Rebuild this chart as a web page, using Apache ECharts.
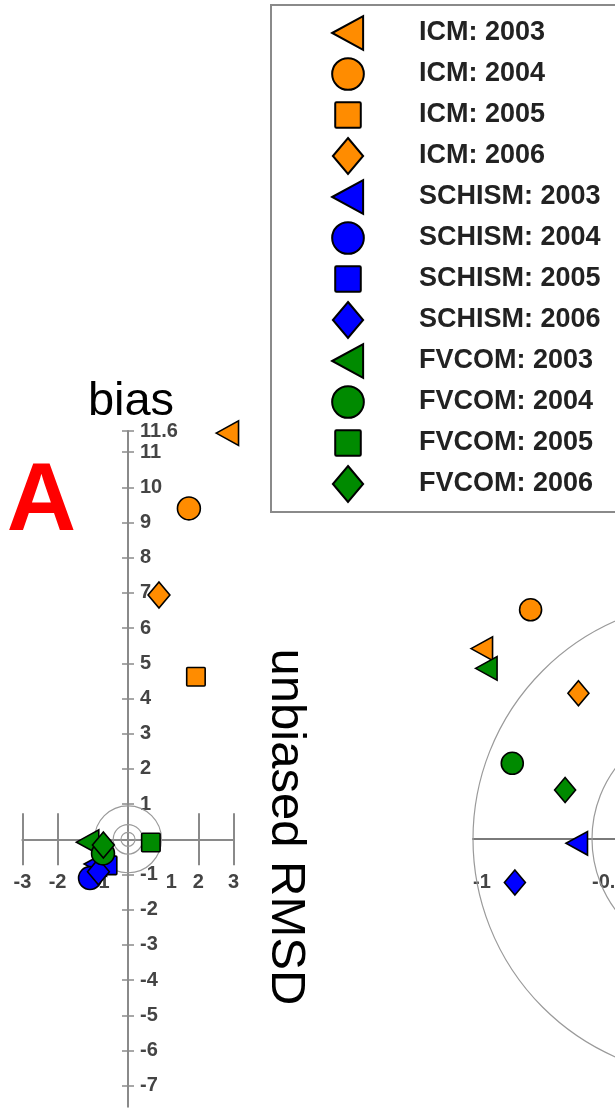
<!DOCTYPE html>
<html><head><meta charset="utf-8">
<script src="https://cdn.jsdelivr.net/npm/echarts@6/dist/echarts.min.js"></script>
<style>html,body{margin:0;padding:0;background:#fff}#c{width:615px;height:1109px}</style>
</head><body><div id="c"></div>
<script>
// ---------------- data ----------------
const models = ['ICM', 'SCHISM', 'FVCOM'];
const years = ['2003', '2004', '2005', '2006'];
const modelColors = ['#FF8C00', '#0000FF', '#008A00'];
// Target diagram A: [unbiased RMSD, bias] for 2003..2006
const icmTarget    = [[2.83, 11.54], [1.73, 9.40], [1.93, 4.62], [0.88, 6.94]];
const schismTarget = [[-0.92, -0.70], [-1.08, -1.10], [-0.58, -0.74], [-0.84, -0.92]];
const fvcomTarget  = [[-1.14, -0.08], [-0.71, -0.40], [0.65, -0.09], [-0.70, -0.16]];
// Second (normalised) diagram, only the points visible in the crop
const icmNorm    = [[-0.962, 0.80], [-0.758, 0.963], null, [-0.557, 0.612]];
const schismNorm = [[-0.563, -0.018], null, null, [-0.824, -0.183]];
const fvcomNorm  = [[-0.943, 0.717], [-0.835, 0.318], null, [-0.613, 0.206]];
// tick labels
const biasTicks = [-7, -6, -5, -4, -3, -2, -1, 1, 2, 3, 4, 5, 6, 7, 8, 9, 10, 11, 11.6];
const rmsdTicks = [-3, -2, -1, 1, 2, 3];
const rmsdLongTicks = [-3, -2, 2, 3];
const normTicks = [-1, -0.5];
const targetCircles = [0.95, 0.42, 0.2];
const normCircles = [1, 0.5];

// ---------------- layout ----------------
const PX0 = 35.2;                 // px per unit, diagram A
const G0 = { left: 22.4, top: 431, xmin: -3, xmax: 3, ymin: -7.6, ymax: 11.6 };
G0.width = (G0.xmax - G0.xmin) * PX0;
G0.height = (G0.ymax - G0.ymin) * PX0;
const PX1 = 238;                  // px per unit, second diagram
const G1 = { left: 473, xmin: -1, xmax: -0.405, ymin: -1.2, ymax: 1.2, zeroY: 839 };
G1.width = (G1.xmax - G1.xmin) * PX1;
G1.height = (G1.ymax - G1.ymin) * PX1;
G1.top = G1.zeroY - G1.ymax * PX1;

// ---------------- styling ----------------
const FONT = '"Liberation Sans", Arial, sans-serif';
const AXIS_GRAY = '#8a8a8a';
const B = 'M0,0 M100,100 ';
const yearSymbols = [
  'path://' + B + 'M6,50 L92,3 L92,97 Z',
  'path://' + B + 'M94,50 C94,74.3 74.3,94 50,94 C25.7,94 6,74.3 6,50 C6,25.7 25.7,6 50,6 C74.3,6 94,25.7 94,50 Z',
  'path://' + B + 'M18,14.5 L82,14.5 Q85.5,14.5 85.5,18 L85.5,82 Q85.5,85.5 82,85.5 L18,85.5 Q14.5,85.5 14.5,82 L14.5,18 Q14.5,14.5 18,14.5 Z',
  'path://' + B + 'M50,0 L92,50 L50,100 L8,50 Z'
];
const targetData = [icmTarget, schismTarget, fvcomTarget];
const normData = [icmNorm, schismNorm, fvcomNorm];

function circleRenderer(params, api) {
  const c = api.coord([0, 0]);
  const e = api.coord([api.value(0), 0]);
  return { type: 'circle', shape: { cx: c[0], cy: c[1], r: Math.abs(e[0] - c[0]) },
    style: { fill: 'none', stroke: '#9a9a9a', lineWidth: 1.2 } };
}

const names = [];
const series = [
  { type: 'custom', xAxisIndex: 0, yAxisIndex: 0, clip: false, silent: true, z: 1,
    data: targetCircles.map(r => [r, 0]), renderItem: circleRenderer },
  { type: 'custom', xAxisIndex: 2, yAxisIndex: 2, clip: false, silent: true, z: 1,
    data: normCircles.map(r => [r, 0]), renderItem: circleRenderer }
];
models.forEach((m, mi) => {
  years.forEach((y, yi) => {
    const name = m + ': ' + y;
    names.push(name);
    const common = {
      name, type: 'scatter', symbol: yearSymbols[yi], clip: false,
      itemStyle: { color: modelColors[mi], borderColor: '#000', borderWidth: 1.6, opacity: 1 },
      emphasis: { disabled: true }
    };
    series.push(Object.assign({}, common, {
      xAxisIndex: 0, yAxisIndex: 0, symbolSize: 26, z: 3, data: [targetData[mi][yi]]
    }));
    if (normData[mi][yi]) {
      series.push(Object.assign({}, common, {
        xAxisIndex: 2, yAxisIndex: 2, symbolSize: 25, z: 3, data: [normData[mi][yi]]
      }));
    }
  });
});

const labelStyle = { fontSize: 20, fontWeight: 'bold', color: '#444', fontFamily: FONT };
// offsets move each axis from the grid edge onto the zero line of the other axis
const xOff0 = -(0 - G0.ymin) * PX0;
const yOff0 = -(0 - G0.xmin) * PX0;
const xOff1 = -(0 - G1.ymin) * PX1;

const option = {
  animation: false,
  backgroundColor: '#fff',
  grid: [
    { left: G0.left, top: G0.top, width: G0.width, height: G0.height, outerBoundsMode: 'none', containLabel: false },
    { left: G1.left, top: G1.top, width: G1.width, height: G1.height, outerBoundsMode: 'none', containLabel: false }
  ],
  xAxis: [
    { gridIndex: 0, type: 'value', min: G0.xmin, max: G0.xmax, position: 'bottom', offset: xOff0,
      axisLine: { onZero: false, lineStyle: { color: AXIS_GRAY, width: 2 } },
      axisTick: { show: true, inside: false, length: 26, customValues: rmsdLongTicks, lineStyle: { color: AXIS_GRAY, width: 2 } },
      axisLabel: Object.assign({ customValues: rmsdTicks, margin: 33,
        formatter: v => Math.abs(v) === 1 ? '{s|' + v + '}' : String(v),
        rich: { s: Object.assign({ padding: [0, 0, 0, 16] }, labelStyle) } }, labelStyle),
      splitLine: { show: false } },
    { gridIndex: 0, type: 'value', min: G0.xmin, max: G0.xmax, position: 'bottom', offset: xOff0,
      axisLine: { show: false, onZero: false },
      axisTick: { show: true, inside: true, length: 26, customValues: rmsdLongTicks, lineStyle: { color: AXIS_GRAY, width: 2 } },
      axisLabel: { show: false }, splitLine: { show: false } },
    { gridIndex: 1, type: 'value', min: G1.xmin, max: G1.xmax, position: 'bottom', offset: xOff1,
      axisLine: { onZero: false, lineStyle: { color: '#7a7a7a', width: 2 } },
      axisTick: { show: false },
      axisLabel: Object.assign({ customValues: normTicks, margin: 33, align: 'left' }, labelStyle),
      splitLine: { show: false } }
  ],
  yAxis: [
    { gridIndex: 0, type: 'value', min: G0.ymin, max: G0.ymax, position: 'left', offset: yOff0,
      axisLine: { onZero: false, lineStyle: { color: AXIS_GRAY, width: 2 } },
      axisTick: { show: true, inside: true, length: 6, customValues: biasTicks, lineStyle: { color: AXIS_GRAY, width: 1.5 } },
      axisLabel: Object.assign({ inside: true, margin: 12, customValues: biasTicks }, labelStyle),
      splitLine: { show: false } },
    { gridIndex: 0, type: 'value', min: G0.ymin, max: G0.ymax, position: 'left', offset: yOff0,
      axisLine: { show: false, onZero: false },
      axisTick: { show: true, inside: false, length: 6, customValues: biasTicks, lineStyle: { color: AXIS_GRAY, width: 1.5 } },
      axisLabel: { show: false }, splitLine: { show: false } },
    { gridIndex: 1, type: 'value', min: G1.ymin, max: G1.ymax, show: false }
  ],
  legend: {
    orient: 'vertical', left: 329, top: 5, padding: [9, 0, 0, 0],
    itemGap: 3, itemWidth: 132, itemHeight: 36, selectedMode: false,
    textStyle: { fontSize: 27, lineHeight: 30, fontWeight: 'bold', color: '#222', fontFamily: FONT },
    data: names
  },
  graphic: [
    { type: 'rect', silent: true, z: -1,
      shape: { x: 271, y: 5, width: 420, height: 507 },
      style: { fill: 'none', stroke: AXIS_GRAY, lineWidth: 2 } },
    { type: 'text', x: 41.5, y: 504, silent: true,
      style: { text: 'A', textAlign: 'center', textVerticalAlign: 'middle', align: 'center', verticalAlign: 'middle',
        font: 'bold 96px ' + FONT, fill: '#ff0000' } },
    { type: 'text', x: 131, y: 402, silent: true,
      style: { text: 'bias', textAlign: 'center', textVerticalAlign: 'middle', align: 'center', verticalAlign: 'middle',
        font: '47px ' + FONT, fill: '#000' } },
    { type: 'text', x: 286, y: 827, rotation: -Math.PI / 2, silent: true,
      style: { text: 'unbiased RMSD', textAlign: 'center', textVerticalAlign: 'middle', align: 'center', verticalAlign: 'middle',
        font: '49px ' + FONT, fill: '#000' } }
  ],
  series
};
const chart = echarts.init(document.getElementById('c'), null, { renderer: 'canvas' });
chart.setOption(option);
</script>
</body></html>
